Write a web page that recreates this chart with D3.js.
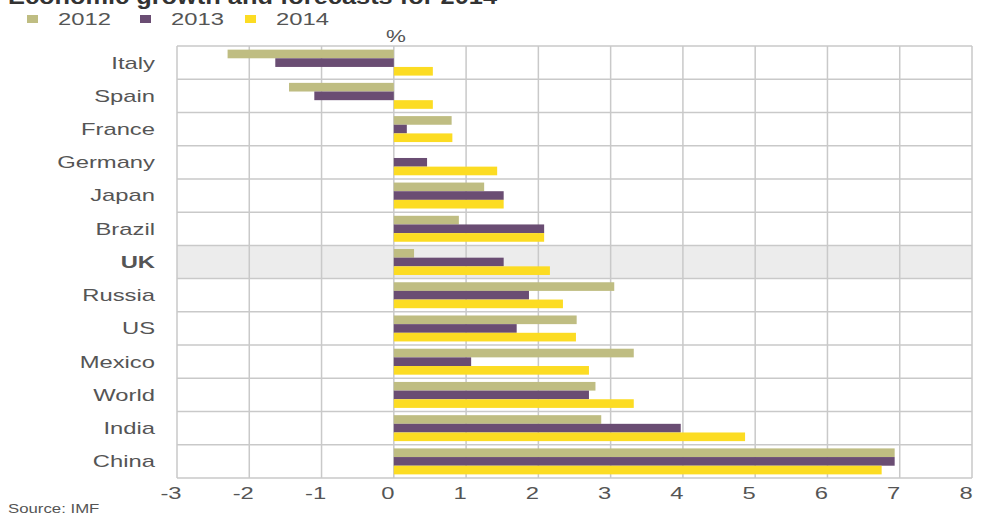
<!DOCTYPE html>
<html lang="en">
<head>
    <meta charset="UTF-8">
    <title>Economic growth</title>
    <style>
        body{ margin:0; background:#fff; }
        svg{ display:block; font-family: "Liberation Sans", Arial, sans-serif; }
    </style>
    <script src="https://cdn.jsdelivr.net/npm/d3@7"></script>
</head>
<body>
<script>
    const width = 982
    const height = 515

    const countries = ["Italy","Spain","France","Germany","Japan","Brazil","UK","Russia","US","Mexico","World","India","China"]
    const years = ["2012","2013","2014"]
    const g2012 = [-2.3,-1.45,0.8,null,1.25,0.9,0.28,3.05,2.53,3.32,2.79,2.87,6.93]
    const g2013 = [-1.64,-1.1,0.18,0.46,1.52,2.08,1.52,1.87,1.7,1.07,2.7,3.97,6.93]
    const g2014 = [0.54,0.54,0.81,1.43,1.52,2.08,2.16,2.34,2.52,2.7,3.32,4.86,6.75]
    const xTicks = [-3,-2,-1,0,1,2,3,4,5,6,7,8]
    const colors = ["#bfbd82","#6a4d73","#fcdc23"]

    const series = [g2012, g2013, g2014]
    const sx = 1.4   // text in the original is drawn wide

    let svg = d3.select("body").append("svg")
        .attr("width", width).attr("height", height)

    const x = d3.scaleLinear().domain([-3,8]).range([177,972])
    const y = d3.scaleBand().domain(countries).range([46,478])
    const ySub = d3.scaleBand().domain(years).range([0,y.bandwidth()]).paddingOuter(0.42)

    // highlight row
    svg.append("rect")
        .attr("x", x(-3)).attr("y", y("UK"))
        .attr("width", x(8)-x(-3)).attr("height", y.bandwidth())
        .attr("fill","#ececec")

    // grid
    let grid = svg.append("g")
    grid.selectAll(".vg").data(xTicks).enter().append("line")
        .attr("x1", d=>x(d)).attr("x2", d=>x(d))
        .attr("y1", 46).attr("y2", 478)
        .attr("stroke","#c9c9c9").attr("stroke-width",1.5)
    grid.selectAll(".hg").data(countries.concat(["end"])).enter().append("line")
        .attr("x1", x(-3)).attr("x2", x(8))
        .attr("y1", d=> d==="end" ? 478 : y(d))
        .attr("y2", d=> d==="end" ? 478 : y(d))
        .attr("stroke","#c9c9c9").attr("stroke-width",1.5)

    // bars
    series.forEach((vals,si)=>{
        svg.append("g").selectAll("rect")
            .data(vals.map((v,i)=>({c:countries[i], v:v})).filter(d=>d.v!==null))
            .enter().append("rect")
            .attr("x", d=>x(Math.min(0,d.v)))
            .attr("width", d=>Math.abs(x(d.v)-x(0)))
            .attr("y", d=>y(d.c)+ySub(years[si]))
            .attr("height", ySub.bandwidth())
            .attr("fill", colors[si])
    })

    // category labels
    svg.append("g").selectAll("text").data(countries).enter().append("text")
        .attr("transform", d=>`translate(155,${y(d)+y.bandwidth()/2}) scale(${sx},1)`)
        .attr("dy","0.35em")
        .attr("text-anchor","end")
        .attr("font-size",17)
        .attr("font-weight", d=>d==="UK" ? "bold" : "normal")
        .attr("fill","#555")
        .text(d=>d)

    // x tick labels
    svg.append("g").selectAll("text").data(xTicks).enter().append("text")
        .attr("transform", d=>`translate(${x(d)-6},499) scale(${sx},1)`)
        .attr("text-anchor","middle")
        .attr("font-size",17)
        .attr("fill","#555")
        .text(d=>d)

    svg.append("text")
        .attr("transform",`translate(396,42) scale(${sx},1)`)
        .attr("text-anchor","middle").attr("font-size",16).attr("fill","#555")
        .text("%")

    // title (clipped at top, as in the original)
    svg.append("text").attr("x",8).attr("y",4)
        .attr("font-size",22).attr("font-weight","bold").attr("fill","#333")
        .attr("textLength",489).attr("lengthAdjust","spacingAndGlyphs")
        .text("Economic growth and forecasts for 2014")

    // legend
    const legX = [27,140,245]
    let leg = svg.append("g").selectAll("g").data(years).enter().append("g")
        .attr("transform",(d,i)=>`translate(${legX[i]},0)`)
    leg.append("rect").attr("x",0).attr("y",15).attr("width",11).attr("height",8)
        .attr("fill",(d,i)=>colors[i])
    leg.append("text")
        .attr("transform",`translate(31,25) scale(${sx},1)`)
        .attr("font-size",17).attr("fill","#555")
        .text(d=>d)

    svg.append("text")
        .attr("transform",`translate(8,513) scale(${sx},1)`)
        .attr("font-size",12).attr("fill","#555")
        .text("Source: IMF")
</script>
</body>
</html>
